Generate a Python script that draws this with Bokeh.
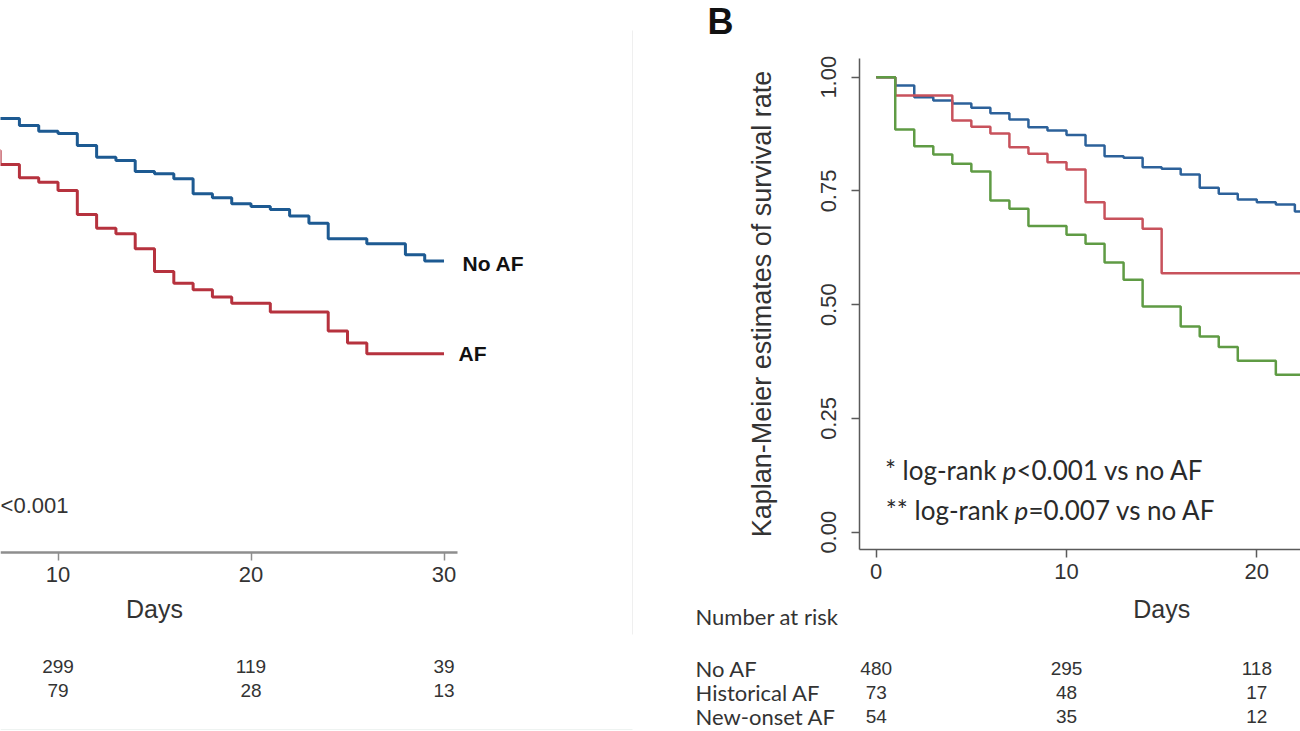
from bokeh.plotting import figure
from bokeh.layouts import row
from bokeh.models import Range1d, FixedTicker, NumeralTickFormatter
from bokeh.core.properties import value
from bokeh.embed import file_html
from bokeh.resources import INLINE

# ---------------- data ----------------
# Panel A (visible part only; panel is cropped on the left)
a_noaf_days = [6, 8, 9, 10, 11, 12, 13, 14, 15, 16, 17, 18, 19, 20, 21, 22, 23, 24, 26, 28, 29, 30]
a_noaf_surv = [0.909, 0.894, 0.881, 0.876, 0.850, 0.824, 0.817, 0.793, 0.788, 0.777, 0.744, 0.735,
               0.722, 0.716, 0.709, 0.695, 0.679, 0.645, 0.634, 0.610, 0.596, 0.596]
a_af_days = [6, 7, 8, 9, 10, 11, 12, 13, 14, 15, 16, 17, 18, 19, 21, 24, 25, 26, 30]
a_af_surv = [0.839, 0.808, 0.779, 0.769, 0.751, 0.698, 0.668, 0.656, 0.623, 0.573, 0.547, 0.533,
             0.517, 0.503, 0.484, 0.442, 0.416, 0.392, 0.392]
a_ticks = [10, 20, 30]
a_risk_days = [10, 20, 30]
a_risk_noaf = [299, 119, 39]
a_risk_af = [79, 28, 13]

# Panel B
b_noaf_days = [0, 1, 2, 3, 4, 5, 6, 7, 8, 9, 10, 11, 12, 13, 14, 15, 16, 17, 18, 19, 20, 21, 22, 24]
b_noaf_surv = [1.0, 0.982, 0.956, 0.949, 0.942, 0.933, 0.921, 0.907, 0.890, 0.883, 0.873, 0.850,
               0.826, 0.823, 0.802, 0.799, 0.786, 0.757, 0.744, 0.731, 0.725, 0.720, 0.705, 0.705]
b_hist_days = [0, 1, 4, 5, 6, 7, 8, 9, 10, 11, 12, 14, 15, 24]
b_hist_surv = [1.0, 0.960, 0.905, 0.891, 0.876, 0.846, 0.832, 0.813, 0.797, 0.725, 0.689, 0.667,
               0.569, 0.569]
b_new_days = [0, 1, 2, 3, 4, 5, 6, 7, 8, 10, 11, 12, 13, 14, 16, 17, 18, 19, 21, 24]
b_new_surv = [1.0, 0.885, 0.848, 0.830, 0.810, 0.793, 0.729, 0.711, 0.673, 0.654, 0.634, 0.593,
              0.555, 0.496, 0.452, 0.430, 0.407, 0.377, 0.346, 0.346]
b_xticks = [0, 10, 20]
b_yticks = [0, 0.25, 0.5, 0.75, 1.0]
b_risk_days = [0, 10, 20]
b_risk_noaf = [480, 295, 118]
b_risk_hist = [73, 48, 17]
b_risk_new = [54, 35, 12]
b_risk_groups = ["No AF", "Historical AF", "New-onset AF"]

# ---------------- geometry / styles ----------------
SANS = "Liberation Sans"
CAL = "Lato"
A_BLUE, A_RED = "#1d5a92", "#b6323e"
B_BLUE, B_RED, B_GREEN = "#2c619a", "#c8525c", "#5f9b44"
TXT = "#333333"

A_PX = 19.3      # px per day, panel A
B_PX = 19.03     # px per day, panel B
A_X0 = 7.02      # first visible day of panel A
B_DAY0 = 235.7   # pixel of day 0 inside panel B
Y0PX, YPX = 531.7, 455.0   # pixel of survival 0 and px per unit
H = 731


def yv(py):
    return (Y0PX - py) / YPX


def ax_(px):
    return A_X0 + px / A_PX


def bx(px):
    return (px - B_DAY0) / B_PX


def base(fig):
    fig.grid.visible = False
    fig.outline_line_color = None
    fig.background_fill_color = "white"
    fig.border_fill_color = "white"
    return fig


def style_axis(ax, ticks, color, width):
    ax.ticker = FixedTicker(ticks=ticks)
    ax.axis_line_color = color
    ax.axis_line_width = width
    ax.major_tick_line_color = color
    ax.major_tick_line_width = 1.5
    ax.major_tick_out = 8
    ax.major_tick_in = 0
    ax.minor_tick_line_color = None
    ax.major_label_text_font = SANS
    ax.major_label_text_font_size = "22px"
    ax.major_label_text_color = TXT
    ax.major_label_standoff = 6


yr = (yv(H), yv(0))

# ---------------- Panel A ----------------
a = base(figure(width=640, height=H, x_range=Range1d(ax_(0), ax_(640)), y_range=Range1d(*yr),
                y_axis_location=None, toolbar_location=None, output_backend="svg", min_border=0))
style_axis(a.xaxis[0], a_ticks, "#8e8e8e", 2.5)
a.xaxis.fixed_location = yv(552)
a.xaxis.bounds = (ax_(0), ax_(457))
# faint panel frame of the original figure
a.segment(x0=[ax_(632)], y0=[yv(30)], x1=[ax_(632)], y1=[yv(634)], line_color="#efefef", line_width=1)
a.segment(x0=[ax_(0)], y0=[yv(729)], x1=[ax_(632)], y1=[yv(729)], line_color="#eef3f1", line_width=1)
a.step(a_noaf_days, a_noaf_surv, mode="after", line_color=A_BLUE, line_width=3)
a.step(a_af_days, a_af_surv, mode="after", line_color=A_RED, line_width=3)
bold = dict(text_font=value(SANS), text_font_style="bold", text_font_size="21px",
            text_baseline="middle", text_color="#111111")
a.text(x=[ax_(462)], y=[yv(263)], text=["No AF"], **bold)
a.text(x=[ax_(458)], y=[yv(353)], text=["AF"], **bold)
a.text(x=[ax_(68)], y=[yv(505)], text=["<0.001"], text_font=value(SANS), text_font_size="22px",
       text_baseline="middle", text_align="right", text_color=TXT)
a.text(x=[15], y=[yv(608)], text=["Days"], text_font=value(SANS), text_font_size="25px",
       text_align="center", text_baseline="middle", text_color=TXT)
num = dict(text_font=value(SANS), text_font_size="19px", text_align="center",
           text_baseline="middle", text_color=TXT)
a.text(x=a_risk_days, y=[yv(666)] * 3, text=[str(v) for v in a_risk_noaf], **num)
a.text(x=a_risk_days, y=[yv(690)] * 3, text=[str(v) for v in a_risk_af], **num)

# ---------------- Panel B ----------------
b = base(figure(width=660, height=H, x_range=Range1d(bx(0), bx(660)), y_range=Range1d(*yr),
                toolbar_location=None, output_backend="svg", min_border=0))
style_axis(b.xaxis[0], b_xticks, "#5a5a5a", 1.5)
style_axis(b.yaxis[0], b_yticks, "#5a5a5a", 1.5)
b.xaxis.fixed_location = yv(549)
b.xaxis.bounds = (bx(219), bx(660))
b.yaxis.fixed_location = bx(219)
b.yaxis.bounds = (yv(549), yv(58))
b.yaxis.formatter = NumeralTickFormatter(format="0.00")
b.yaxis.major_label_orientation = "vertical"
b.yaxis.major_label_standoff = 15
b.yaxis.axis_label = "Kaplan-Meier estimates of survival rate"
b.yaxis.axis_label_text_font = SANS
b.yaxis.axis_label_text_font_size = "27px"
b.yaxis.axis_label_text_font_style = "normal"
b.yaxis.axis_label_text_color = TXT
b.yaxis.axis_label_standoff = 42

b.step(b_noaf_days, b_noaf_surv, mode="after", line_color=B_BLUE, line_width=2.5)
b.step(b_hist_days, b_hist_surv, mode="after", line_color=B_RED, line_width=2.5)
b.step(b_new_days, b_new_surv, mode="after", line_color=B_GREEN, line_width=2.5)

b.text(x=[bx(67)], y=[yv(21)], text=["B"], text_font=value(SANS), text_font_style="bold",
       text_font_size="36px", text_baseline="middle", text_color="#111111")

ann = dict(text_font=value(CAL), text_font_size="26px", text_baseline="middle", text_color="#2a2a2a")
b.text(x=[6.32], y=[0.136], text=["* log-rank"], text_align="right", **ann)
b.text(x=[6.64], y=[0.136], text=["p"], text_align="left", text_font_style="italic", **ann)
b.text(x=[7.37], y=[0.136], text=["<0.001 vs no AF"], text_align="left", **ann)
b.text(x=[6.95], y=[0.048], text=["** log-rank"], text_align="right", **ann)
b.text(x=[7.27], y=[0.048], text=["p"], text_align="left", text_font_style="italic", **ann)
b.text(x=[8.00], y=[0.048], text=["=0.007 vs no AF"], text_align="left", **ann)

b.text(x=[15], y=[yv(608)], text=["Days"], text_font=value(SANS), text_font_size="25px",
       text_align="center", text_baseline="middle", text_color=TXT)
lab = dict(text_font=value(CAL), text_font_size="22px", text_baseline="middle", text_color=TXT)
b.text(x=[bx(55)], y=[yv(616)], text=["Number at risk"], **lab)
b.text(x=[bx(55)] * 3, y=[yv(668), yv(692), yv(716)], text=b_risk_groups, **lab)
b.text(x=b_risk_days, y=[yv(668)] * 3, text=[str(v) for v in b_risk_noaf], **num)
b.text(x=b_risk_days, y=[yv(692)] * 3, text=[str(v) for v in b_risk_hist], **num)
b.text(x=b_risk_days, y=[yv(716)] * 3, text=[str(v) for v in b_risk_new], **num)

layout = row(a, b)
open("out.html", "w").write(file_html(layout, INLINE))
